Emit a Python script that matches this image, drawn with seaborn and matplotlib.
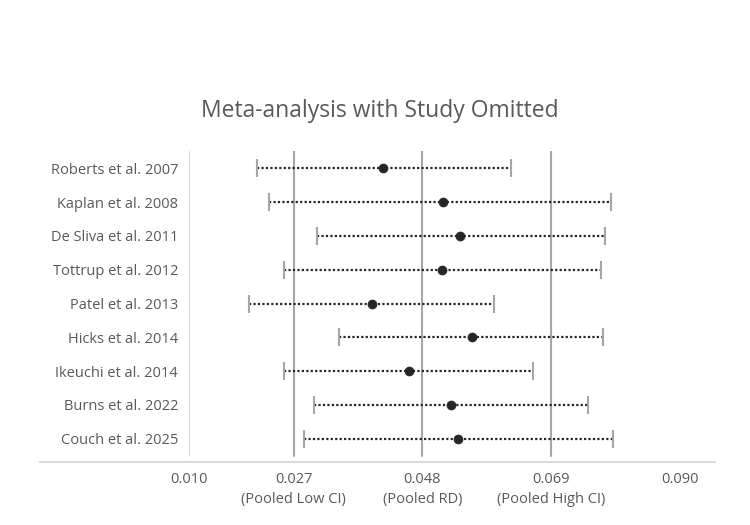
import matplotlib
matplotlib.use("Agg")
import matplotlib.pyplot as plt
import seaborn as sns
import pandas as pd

studies = ["Roberts et al. 2007", "Kaplan et al. 2008", "De Sliva et al. 2011",
           "Tottrup et al. 2012", "Patel et al. 2013", "Hicks et al. 2014",
           "Ikeuchi et al. 2014", "Burns et al. 2022", "Couch et al. 2025"]
rd = [0.0415, 0.0514, 0.0542, 0.0512, 0.0398, 0.0560, 0.0458, 0.0526, 0.0538]
ci_low = [0.0211, 0.0230, 0.0309, 0.0255, 0.0198, 0.0344, 0.0255, 0.0303, 0.0287]
ci_high = [0.0624, 0.0787, 0.0777, 0.0771, 0.0597, 0.0775, 0.0660, 0.0749, 0.0790]

ref_values = [0.027, 0.048, 0.069]
tick_values = [0.010, 0.027, 0.048, 0.069, 0.090]
tick_labels = ["0.010", "0.027\n(Pooled Low CI)", "0.048\n(Pooled RD)",
               "0.069\n(Pooled High CI)", "0.090"]
title = "Meta-analysis with Study Omitted"

df = pd.DataFrame({"study": studies, "rd": rd, "low": ci_low, "high": ci_high})
df["pos"] = range(len(df))

sns.set_theme(style="white")
plt.rcParams["font.family"] = ["Open Sans", "DejaVu Sans"]

fig = plt.figure(figsize=(7.5, 5.25), dpi=100)
ax = fig.add_axes([0.2523, 0.1194, 0.9533 - 0.2523, 0.593])

xmin, xmax = 0.010, 0.09567
ax.set_xlim(xmin, xmax)
ax.set_ylim(8.698, -0.512)

light = "#d9d9d9"
grey = "#a6a6a6"
txt = "#595959"

# reference lines
ax.axvline(xmin, ymin=0.02, ymax=1, color=light, lw=1.5, zorder=1)
for v in ref_values:
    ax.axvline(v, ymin=0.02, ymax=1, color=grey, lw=1.5, zorder=1)

# CI lines
ax.hlines(df["pos"], df["low"], df["high"], colors="#262626", linestyles=(0, (1, 1)),
          lw=1.6, zorder=2)
# caps
ax.plot(df["low"], df["pos"], ls="none", marker="|", markersize=13, mew=1.5,
        color=grey, zorder=3)
ax.plot(df["high"], df["pos"], ls="none", marker="|", markersize=13, mew=1.5,
        color=grey, zorder=3)
# points
sns.scatterplot(data=df, x="rd", y="pos", ax=ax, s=42, color="#262626",
                edgecolor="#262626", linewidth=0.5, zorder=4, legend=False)

for sp in ax.spines.values():
    sp.set_visible(False)
ax.axhline(8.698, xmin=(40 - 189.2) / (715 - 189.2), xmax=1, color=light, lw=1.5,
           clip_on=False, zorder=1)

ax.set_yticks(df["pos"])
ax.set_yticklabels(studies, fontsize=10.5, color=txt)
ax.set_xticks(tick_values)
ax.set_xticklabels(tick_labels, fontsize=10.5, color=txt, linespacing=1.45)
ax.tick_params(axis="both", length=0)
ax.tick_params(axis="y", pad=8)
ax.tick_params(axis="x", pad=7)
ax.set_xlabel("")
ax.set_ylabel("")
ax.grid(False)

fig.text(380 / 750, 1 - 111 / 525, title, ha="center", va="center",
         fontsize=16.5, color=txt)

fig.savefig("out.png", dpi=100)
